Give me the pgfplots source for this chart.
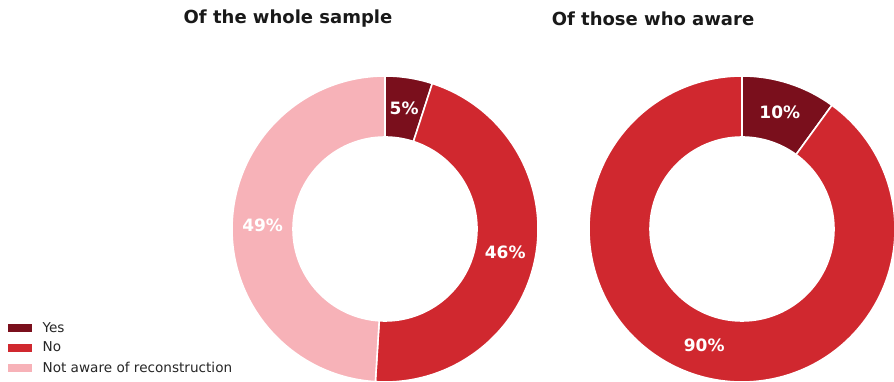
\documentclass[border=0pt]{standalone}
\usepackage{pgfplots}
\usepackage{pgfplotstable}
\pgfplotsset{compat=1.18}
\usepackage{fontspec}
\setmainfont{DejaVu Sans}
\definecolor{cYes}{HTML}{7A0F1C}
\definecolor{cNo}{HTML}{D0282F}
\definecolor{cNot}{HTML}{F7B2B8}

% shares in percent, from 12 o'clock clockwise
\pgfplotstableread{
share color
5 cYes
46 cNo
49 cNot
}\whole
\pgfplotstableread{
share color
10 cYes
90 cNo
}\aware

\newcommand\donut[3]{% #1 table, #2 cx, #3 cy
  \pgfplotstablegetrowsof{#1}%
  \pgfmathtruncatemacro\nrows{\pgfplotsretval-1}%
  \def\curang{90}%
  \pgfplotsforeachungrouped \i in {0,...,\nrows}{%
    \pgfplotstablegetelem{\i}{share}\of{#1}\let\val\pgfplotsretval
    \pgfplotstablegetelem{\i}{color}\of{#1}\let\col\pgfplotsretval
    \pgfmathsetmacro\endang{\curang-3.6*\val}%
    \pgfmathsetmacro\midang{(\curang+\endang)/2}%
    \pgfmathsetmacro\lx{#2+122.4*cos(\midang)}%
    \pgfmathsetmacro\ly{#3+122.4*sin(\midang)}%
    \edef\cmd{\noexpand\fill[\col, draw=white, line width=1.6pt, line join=miter]
      (axis cs:#2,#3) ++(\curang:153pt)
      arc[start angle=\curang, end angle=\endang, radius=153pt]
      -- ++(\endang:-61pt)
      arc[start angle=\endang, end angle=\curang, radius=92pt] -- cycle;
      \noexpand\node[text=white, font=\noexpand\fontsize{17}{20}\noexpand\bfseries]
      at (axis cs:\lx,\ly) {\val\noexpand\%};}%
    \cmd
    \let\curang\endang
  }%
}

\begin{document}
\begin{tikzpicture}
\begin{axis}[
  at={(0,0)}, anchor=south west,
  width=894pt, height=382pt, scale only axis,
  xmin=0, xmax=894, ymin=0, ymax=382,
  hide axis, clip=true,
  legend image code/.code={\fill[#1] (0pt,-3.5pt) rectangle (23pt,3.5pt);},
  legend style={at={(axis cs:5,4)}, anchor=south west, draw=none, fill=none,
    font=\fontsize{13.6}{15}\selectfont, row sep=4.5pt, column sep=9pt,
    nodes={inner sep=2pt, text=black!85}},
  legend cell align=left,
]
\donut{\whole}{385}{153}
\donut{\aware}{742}{153}
\addlegendimage{cYes}
\addlegendentry{Yes}
\addlegendimage{cNo}
\addlegendentry{No}
\addlegendimage{cNot}
\addlegendentry{Not aware of reconstruction}
\node[font=\fontsize{18}{21}\bfseries, text=black!90] at (axis cs:288,363) {Of the whole sample};
\node[font=\fontsize{18}{21}\bfseries, text=black!90] at (axis cs:653,363) {Of those who aware};
\coordinate (SW) at (axis cs:0,0);
\coordinate (NE) at (axis cs:894,382);
\end{axis}
\pgfresetboundingbox
\path (SW) rectangle (NE);
\end{tikzpicture}
\end{document}
